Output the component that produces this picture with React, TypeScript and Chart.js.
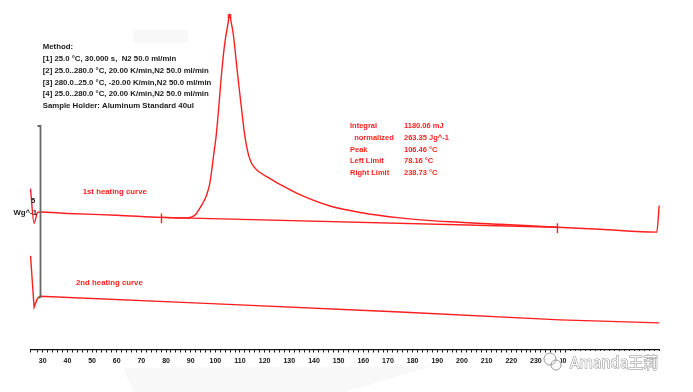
import React, { useEffect, useRef } from "react";
import { Chart, registerables } from "chart.js";
Chart.register(...registerables);

// Temperature (°C) and heat flow (arbitrary units)
const firstT = [25.05, 26.5, 27.9, 28.9, 40, 60, 78.16, 88.0, 90.5, 92.2, 93.1, 94.6, 96.2, 97.0, 97.8, 98.6, 99.4, 100.3, 101.5, 102.6, 103.9, 105.1, 105.75, 106.35, 107.2, 108.0, 108.9, 110.4, 112.0, 113.3, 114.5, 116.1, 118.1, 121.4, 126.2, 134.3, 146.5, 158.7, 174.9, 195.2, 215.4, 238.73, 255.9, 279.0, 280.0];
const firstHF = [16.3, 12.8, 13.9, 13.95, 13.8, 13.62, 13.4, 13.33, 13.45, 13.75, 14.1, 14.7, 15.5, 16.1, 16.9, 18.3, 19.9, 21.6, 24.9, 28.2, 31.2, 33.0, 34.0, 33.3, 32.1, 30.4, 28.2, 24.9, 21.6, 19.9, 19.0, 18.4, 17.95, 17.45, 16.75, 15.7, 14.55, 13.9, 13.35, 12.95, 12.7, 12.4, 12.2, 11.9, 14.6];

const secondT = [25.05, 26.5, 27.9, 28.9, 93.8, 174.9, 239.8, 280.0];
const secondHF = [9.5, 4.3, 5.2, 5.4, 4.7, 3.8, 3.0, 2.7];

const baselineT = [78.16, 238.73];
const baselineHF = [13.4, 12.4];

const leftLimitT = [78.16, 78.16];
const leftLimitHF = [12.8, 13.8];
const rightLimitT = [238.73, 238.73];
const rightLimitHF = [11.8, 12.8];

const peakT = [105.75];
const peakHF = [33.8];

const methodLines = [
  "Method:",
  "[1] 25.0 °C, 30.000 s,  N2 50.0 ml/min",
  "[2] 25.0..280.0 °C, 20.00 K/min,N2 50.0 ml/min",
  "[3] 280.0..25.0 °C, -20.00 K/min,N2 50.0 ml/min",
  "[4] 25.0..280.0 °C, 20.00 K/min,N2 50.0 ml/min",
  "Sample Holder: Aluminum Standard 40ul",
];
const resultLabels = ["Integral", "  normalized", "Peak", "Left Limit", "Right Limit"];
const resultValues = ["1180.06 mJ", "263.35 Jg^-1", "106.46 °C", "78.16 °C", "238.73 °C"];

const RED = "rgb(255,30,30)";
const FONT = "'Liberation Sans', Arial, sans-serif";

const zip = (xs: number[], ys: number[]) => xs.map((x, i) => ({ x, y: ys[i] }));

const overlayPlugin = {
  id: "overlay",
  beforeDraw(chart: any) {
    const ctx = chart.ctx;
    ctx.save();
    ctx.fillStyle = "#ffffff";
    ctx.fillRect(0, 0, chart.width, chart.height);
    ctx.fillStyle = "#f8f8f8";
    ctx.beginPath();
    ctx.moveTo(123, 368);
    ctx.lineTo(433, 366);
    ctx.lineTo(345, 392);
    ctx.lineTo(133, 392);
    ctx.closePath();
    ctx.fill();
    ctx.beginPath();
    ctx.moveTo(133, 30);
    ctx.lineTo(188, 30);
    ctx.lineTo(188, 43);
    ctx.lineTo(133, 43);
    ctx.closePath();
    ctx.fill();
    ctx.restore();
  },
  afterDraw(chart: any) {
    const ctx = chart.ctx;
    ctx.save();
    // scale bar
    ctx.strokeStyle = "#666666";
    ctx.lineWidth = 1.8;
    ctx.beginPath();
    ctx.moveTo(37.5, 126);
    ctx.lineTo(40.5, 126);
    ctx.lineTo(40.5, 297);
    ctx.lineTo(38.5, 298);
    ctx.stroke();

    ctx.textBaseline = "middle";
    ctx.fillStyle = "#1a1a1a";
    ctx.font = `bold 7.8px ${FONT}`;
    methodLines.forEach((t, i) => ctx.fillText(t, 42.7, 47 + i * 11.8));

    ctx.fillText("5", 31, 201);
    ctx.textAlign = "right";
    ctx.fillText("Wg^-1", 37, 213);
    ctx.textAlign = "left";

    ctx.fillStyle = RED;
    ctx.font = `bold 7.5px ${FONT}`;
    resultLabels.forEach((t, i) => ctx.fillText(t, 350, 126.3 + i * 11.7));
    resultValues.forEach((t, i) => ctx.fillText(t, 404, 126.3 + i * 11.7));

    ctx.font = `bold 7.8px ${FONT}`;
    ctx.fillText("1st heating curve", 82.7, 191.7);
    ctx.fillText("2nd heating curve", 76, 282.7);

    // watermark
    ctx.fillStyle = "#ffffff";
    ctx.fillRect(568, 351, 104, 21);
    ctx.beginPath();
    ctx.arc(552, 362, 9, 0, Math.PI * 2);
    ctx.fill();
    ctx.strokeStyle = "#9a9a9a";
    ctx.lineWidth = 1;
    ctx.beginPath();
    ctx.arc(550, 359, 6, 0, Math.PI * 2);
    ctx.stroke();
    ctx.beginPath();
    ctx.arc(556, 365, 5, 0, Math.PI * 2);
    ctx.stroke();
    ctx.font = `15px 'Noto Sans CJK SC', sans-serif`;
    ctx.lineWidth = 1;
    ctx.strokeStyle = "#8a8a8a";
    ctx.fillStyle = "#ffffff";
    ctx.strokeText("Amanda王莉", 570, 362);
    ctx.fillText("Amanda王莉", 570, 362);
    ctx.restore();
  },
};

export default function App() {
  const ref = useRef<HTMLCanvasElement | null>(null);
  useEffect(() => {
    if (!ref.current) return;
    const line = (data: any[], extra: any = {}) => ({
      data,
      borderColor: RED,
      backgroundColor: RED,
      borderWidth: 1.4,
      pointRadius: 0,
      showLine: true,
      fill: false,
      clip: false,
      ...extra,
    });
    const chart = new Chart(ref.current, {
      type: "scatter",
      data: {
        datasets: [
          line(zip(firstT, firstHF), { cubicInterpolationMode: "monotone" }),
          line(zip(secondT, secondHF)),
          line(zip(baselineT, baselineHF)),
          line(zip(leftLimitT, leftLimitHF)),
          line(zip(rightLimitT, rightLimitHF)),
          {
            data: zip(peakT, peakHF),
            showLine: false,
            pointStyle: "crossRot",
            pointRadius: 2.5,
            borderColor: RED,
            borderWidth: 1.4,
            clip: false,
          },
        ],
      },
      options: {
        responsive: false,
        animation: false,
        events: [],
        layout: { padding: { left: 30.4, right: 33.8, top: 0, bottom: 0 } },
        plugins: { legend: { display: false }, tooltip: { enabled: false }, title: { display: false } },
        scales: {
          x: {
            type: "linear",
            min: 25,
            max: 280,
            afterFit: (scale: any) => {
              scale.height = 42.5;
            },
            grid: {
              drawOnChartArea: false,
              drawTicks: true,
              tickLength: 3,
              color: "#111",
              lineWidth: 1,
            },
            border: { display: true, color: "#111", width: 1.2 },
            ticks: {
              stepSize: 2,
              autoSkip: false,
              maxRotation: 0,
              padding: 4,
              color: "#111",
              font: { family: FONT, size: 7, weight: "bold" },
              callback: (v: any) => {
                const n = Number(v);
                return Math.abs(n % 10) < 1e-6 && n >= 30 && n <= 270 ? String(n) : "";
              },
            },
          },
          y: { type: "linear", display: false, min: 0, max: 34.9 },
        },
      } as any,
      plugins: [overlayPlugin],
    });
    return () => chart.destroy();
  }, []);
  return (
    <div style={{ position: "fixed", left: 0, top: 0, width: 693, height: 392, background: "#fff" }}>
      <canvas ref={ref} width={693} height={392} style={{ display: "block" }} />
    </div>
  );
}
